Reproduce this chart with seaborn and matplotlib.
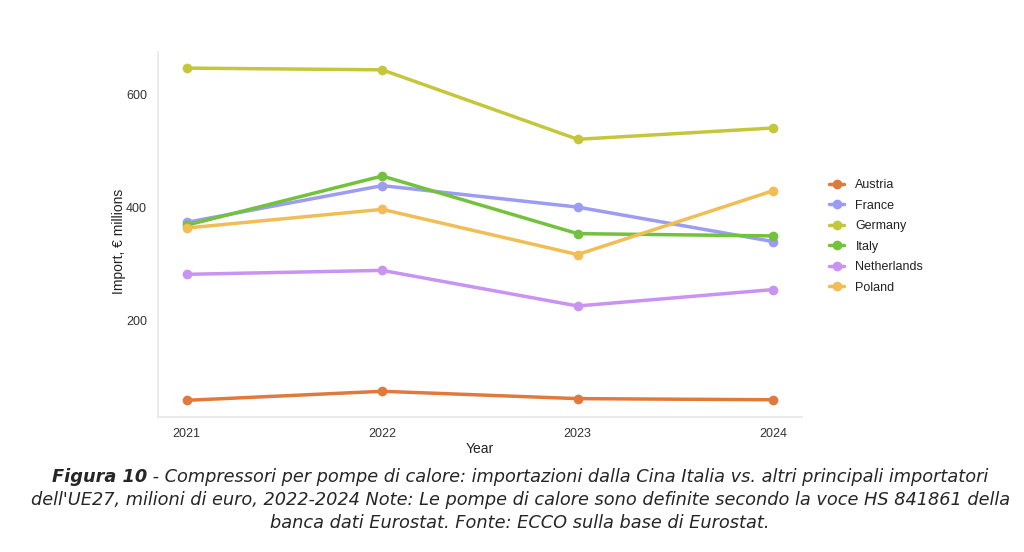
import pandas as pd
import numpy as np
import seaborn as sns
from matplotlib import pyplot as plt

## DATA ##
years = [2021, 2022, 2023, 2024]
countries = ["Austria", "France", "Germany", "Italy", "Netherlands", "Poland"]
austria = [58, 74, 61, 59]
france = [373, 438, 400, 339]
germany = [646, 643, 520, 540]
italy = [368, 455, 353, 349]
netherlands = [281, 288, 225, 254]
poland = [363, 396, 316, 429]
colors = ["#E07A3C", "#9B9CF2", "#C4C73C", "#72C23E", "#C993F2", "#F1BD55"]

caption_bold = "Figura 10"
caption_1 = " - Compressori per pompe di calore: importazioni dalla Cina Italia vs. altri principali importatori"
caption_2 = "dell'UE27, milioni di euro, 2022-2024 Note: Le pompe di calore sono definite secondo la voce HS 841861 della"
caption_3 = "banca dati Eurostat. Fonte: ECCO sulla base di Eurostat."

series = [austria, france, germany, italy, netherlands, poland]
rows = []
for name, vals in zip(countries, series):
    for yr, v in zip(years, vals):
        rows.append({"Year": yr, "Import": v, "Country": name})
df = pd.DataFrame(rows)

sns.set_style("white")
plt.rcParams['font.family'] = ['Liberation Sans', 'DejaVu Sans']

fig = plt.figure(figsize=(10.24, 5.52), dpi=100)
ax = fig.add_axes([0.1543, 0.2451, 0.6287, 0.6612])

sns.lineplot(data=df, x="Year", y="Import", hue="Country", palette=colors,
             marker="o", markersize=7, markeredgewidth=0, linewidth=2.5, ax=ax)

ax.set_xlim(2021 - 0.147, 2024 + 0.147)
ax.set_ylim(29, 675)
ax.set_xticks(years)
ax.set_xticklabels([str(y) for y in years])
ax.set_yticks([200, 400, 600])
ax.tick_params(axis="both", length=0, labelsize=9, colors="#333333", pad=8)
ax.set_xlabel("Year", fontsize=10, color="#222222", labelpad=2)
ax.xaxis.set_label_coords(0.5, -0.07)
ax.set_ylabel("Import, € millions", fontsize=10, color="#222222", labelpad=2)
ax.yaxis.set_label_coords(-0.05, 0.48)
for s in ["top", "right"]:
    ax.spines[s].set_visible(False)
for s in ["left", "bottom"]:
    ax.spines[s].set_color("#e6e6e6")
    ax.spines[s].set_linewidth(1.2)

leg = ax.legend(loc="center left", bbox_to_anchor=(1.025, 0.494), frameon=False,
                fontsize=9, handlelength=1.2, handletextpad=0.9, labelspacing=0.68)
for t in leg.get_texts():
    t.set_color("#222222")

# caption - size fitted so the long middle line is ~978 px wide
cap_font = ['DejaVu Sans']
cx = 0.508
fig.canvas.draw()
r = fig.canvas.get_renderer()
probe = fig.text(0, 0, caption_2, fontsize=12, fontstyle="italic", family=cap_font)
cap_size = 12 * 978 / probe.get_window_extent(r).width
probe.remove()

tb = fig.text(0, 0.136, caption_bold, fontsize=cap_size, fontstyle="italic", fontweight="bold",
              family=cap_font, va="center", ha="left")
tr = fig.text(0, 0.136, caption_1, fontsize=cap_size, fontstyle="italic",
              family=cap_font, va="center", ha="left")
wb = tb.get_window_extent(r).width / fig.bbox.width
wr = tr.get_window_extent(r).width / fig.bbox.width
x0 = cx - (wb + wr) / 2
tb.set_x(x0)
tr.set_x(x0 + wb)
fig.text(cx, 0.094, caption_2, fontsize=cap_size, fontstyle="italic", family=cap_font,
         va="center", ha="center")
fig.text(cx, 0.052, caption_3, fontsize=cap_size, fontstyle="italic", family=cap_font,
         va="center", ha="center")

fig.savefig("out.png", dpi=100)
